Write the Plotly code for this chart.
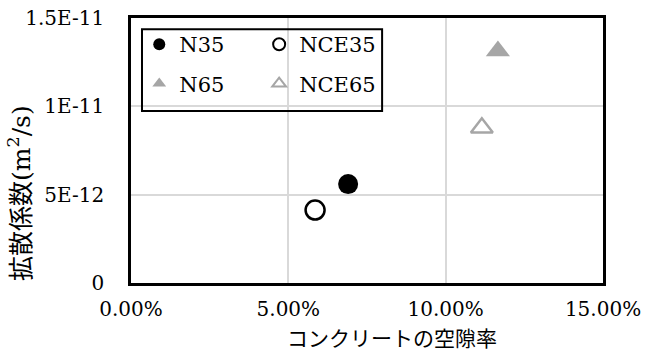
import plotly.graph_objects as go

# ---- data ----
series_names = ["N35", "NCE35", "N65", "NCE65"]
porosity = [0.0690, 0.0585, 0.1166, 0.1115]          # コンクリートの空隙率
diffusion = [5.60e-12, 4.13e-12, 1.313e-11, 8.79e-12]  # 拡散係数 (m2/s)

y_tick_vals = [0, 5e-12, 1e-11, 1.5e-11]
y_tick_text = ["0", "5E-12", "1E-11", "1.5E-11"]

x_title = "コンクリートの空隙率"
y_title = "拡散係数(m<sup>2</sup>/s)"

SERIF = "DejaVu Serif"
CJK = "Noto Sans CJK JP"
GRAY = "#a6a6a6"

styles = {
    "N35": dict(symbol="circle", size=20, color="black", line=dict(width=0, color="black")),
    "NCE35": dict(symbol="circle", size=19, color="white", line=dict(width=2.5, color="black")),
    "N65": dict(symbol="triangle-up", size=21, color=GRAY, line=dict(width=0, color=GRAY)),
    "NCE65": dict(symbol="triangle-up", size=19, color="white", line=dict(width=2.5, color=GRAY)),
}
legend_of = {"N35": "legend", "N65": "legend", "NCE35": "legend2", "NCE65": "legend2"}

fig = go.Figure()
for name, xv, yv in zip(series_names, porosity, diffusion):
    fig.add_trace(go.Scatter(
        x=[xv], y=[yv], mode="markers", name=name,
        marker=styles[name], legend=legend_of[name], legendgroup=name,
        showlegend=True,
    ))

legend_common = dict(
    bgcolor="rgba(0,0,0,0)", borderwidth=0,
    font=dict(family=SERIF, size=21, color="black"),
    itemsizing="constant", tracegroupgap=9,
    xanchor="left", yanchor="top", orientation="v",
)

fig.update_layout(
    width=661, height=352,
    margin=dict(l=131, r=58, t=18, b=69, autoexpand=False),
    paper_bgcolor="white", plot_bgcolor="white",
    font=dict(family=SERIF, size=20, color="black"),
    legend=dict(x=0.0175, y=0.977, **legend_common),
    legend2=dict(x=0.2715, y=0.977, **legend_common),
    xaxis=dict(
        range=[0, 0.15], dtick=0.05, tickformat=".2%",
        showgrid=True, gridcolor="#d9d9d9", gridwidth=1.5,
        showline=True, mirror=True, linecolor="black", linewidth=2.5,
        zeroline=False, ticks="", ticklabelstandoff=6, automargin=False,
        tickfont=dict(family=SERIF, size=20, color="black"),
    ),
    yaxis=dict(
        range=[0, 1.5e-11], tickvals=y_tick_vals, ticktext=y_tick_text,
        showgrid=True, gridcolor="#d9d9d9", gridwidth=1.5,
        showline=True, mirror=True, linecolor="black", linewidth=2.5,
        zeroline=False, ticks="", ticklabelstandoff=20, automargin=False,
        tickfont=dict(family=SERIF, size=20, color="black"),
    ),
    shapes=[dict(
        type="rect", xref="paper", yref="paper",
        x0=0.0233, x1=0.532, y0=0.649, y1=0.958,
        line=dict(color="black", width=2), fillcolor="rgba(0,0,0,0)", layer="above",
    )],
    annotations=[
        dict(text=x_title, xref="paper", yref="paper", x=0.552, y=-0.205,
             xanchor="center", yanchor="middle", showarrow=False,
             font=dict(family=CJK, size=21, color="black")),
        dict(text=y_title, xref="paper", yref="paper", x=-0.235, y=0.34,
             xanchor="center", yanchor="middle", textangle=-90, showarrow=False,
             font=dict(family=SERIF + ", " + CJK, size=25, color="black")),
    ],
)

fig.write_html(
    "out.html",
    config={"displayModeBar": False},
    post_script="document.body.style.margin='0';document.body.style.overflow='hidden';",
)
